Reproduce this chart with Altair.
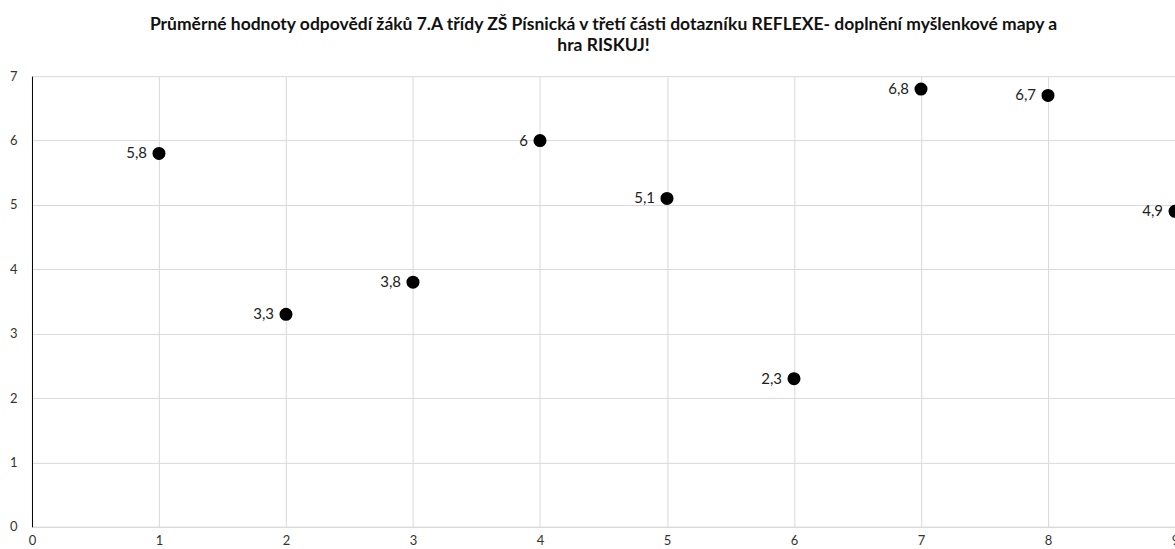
import altair as alt
import pandas as pd

x_vals = [1, 2, 3, 4, 5, 6, 7, 8, 9]
y_vals = [5.8, 3.3, 3.8, 6.0, 5.1, 2.3, 6.8, 6.7, 4.9]
labels = ["5,8", "3,3", "3,8", "6", "5,1", "2,3", "6,8", "6,7", "4,9"]
title_lines = [
    "Průměrné hodnoty odpovědí žáků 7.A třídy ZŠ Písnická v třetí části dotazníku REFLEXE- doplnění myšlenkové mapy a",
    "hra RISKUJ!",
]

df = pd.DataFrame({"x": x_vals, "y": y_vals, "label": labels})

FONT = "Lato"

xenc = alt.X("x:Q", scale=alt.Scale(domain=[0, 9], nice=False, zero=True),
             axis=alt.Axis(values=list(range(10)), format="d", title=None, grid=True, gridColor="#d9d9d9",
                           domainColor="#d9d9d9", ticks=False, labelPadding=8,
                           labelFontSize=13, labelColor="#333333", labelFont=FONT,
                           labelFlush=False))
yenc = alt.Y("y:Q", scale=alt.Scale(domain=[0, 7], nice=False),
             axis=alt.Axis(values=list(range(8)), format="d", title=None, grid=True, gridColor="#d9d9d9",
                           domainColor="#000000", ticks=False, labelPadding=15,
                           labelFontSize=13, labelColor="#333333", labelFont=FONT))

pts = alt.Chart(df).mark_circle(size=170, color="#000000", opacity=1).encode(x=xenc, y=yenc)
txt = alt.Chart(df).mark_text(align="right", baseline="middle", dx=-12, fontSize=15,
                              font=FONT, color="#222222").encode(x="x:Q", y="y:Q", text="label:N")

chart = (pts + txt).properties(
    width=1144, height=451,
    title=alt.TitleParams(text=title_lines, font=FONT, fontSize=17.5, fontWeight="bold",
                          color="#111111", anchor="middle", offset=16, lineHeight=21),
    autosize=alt.AutoSizeParams(type="none"),
    padding={"left": 32, "top": 76, "right": 0, "bottom": 22},
).configure_view(stroke=None)

chart.save("out.html", embed_options={"renderer": "svg", "actions": False})
